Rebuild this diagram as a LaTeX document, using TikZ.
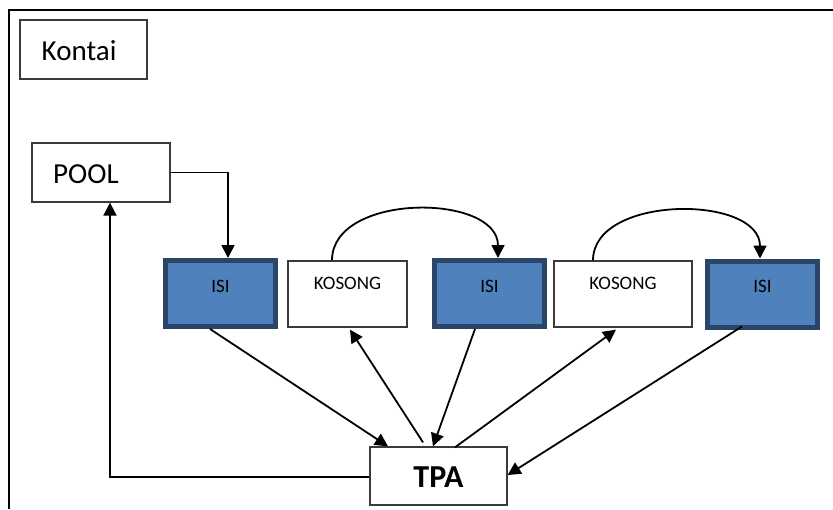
\documentclass[tikz,border=0pt]{standalone}
\usepackage{fontspec}
\setmainfont{Carlito}
\usetikzlibrary{arrows.meta}

\definecolor{isifill}{HTML}{4F81BD}
\definecolor{isiedge}{HTML}{2A4568}
\definecolor{boxedge}{HTML}{3A3A3A}

\tikzset{
  plainbox/.style={draw=boxedge, line width=1.3pt, fill=white, inner sep=0pt},
  isibox/.style={draw=isiedge, line width=5pt, fill=isifill, inner sep=0pt,
                 minimum width=110pt, minimum height=66pt},
  kosbox/.style={plainbox, minimum height=66pt},
  bigtxt/.style={font=\fontsize{29}{32}\selectfont, inner sep=0pt},
  smalltxt/.style={font=\fontsize{19}{22}\selectfont, inner sep=0pt},
  conn/.style={line width=1.8pt, black},
  arr/.style={conn, -{Triangle[length=13pt,width=13pt]}},
}

\begin{document}
\begin{tikzpicture}[x=1pt,y=-1pt]
  \useasboundingbox (0,0) rectangle (833,509);

  % outer frame (left and top edges only)
  \draw[line width=2pt] (9,509) -- (9,10) -- (833,10);

  % title box
  \node[plainbox, minimum width=127pt, minimum height=59pt] (kontai) at (83.5,49.5) {};
  \node[bigtxt, anchor=base west] (kontaitxt) at (41.5,60) {Kontai};

  % pool
  \node[plainbox, minimum width=138pt, minimum height=59pt] (pool) at (101,172.5) {};
  \node[bigtxt, anchor=base west] (pooltxt) at (53,183) {POOL};

  % row of slots
  \node[isibox] (isi1) at (220.5,293.5) {};
  \node[kosbox, minimum width=119pt] (kos1) at (347.5,294) {};
  \node[isibox] (isi2) at (489.5,293.5) {};
  \node[kosbox, minimum width=138pt] (kos2) at (623,294) {};
  \node[isibox] (isi3) at (762.5,294) {};

  \node[smalltxt, anchor=base] (t1) at (220.5,292) {ISI};
  \node[smalltxt, anchor=base] (t2) at (347.5,289) {KOSONG};
  \node[smalltxt, anchor=base] (t3) at (489.5,292) {ISI};
  \node[smalltxt, anchor=base] (t4) at (623,289) {KOSONG};
  \node[smalltxt, anchor=base] (t5) at (762.5,292) {ISI};

  % TPA
  \node[plainbox, minimum width=137pt, minimum height=58pt] (tpa) at (438.5,476) {};
  \node[font=\fontsize{32}{36}\selectfont\bfseries, inner sep=0pt, anchor=base] (tpatxt) at (438.5,487.5) {TPA};

  % pool feeds the first slot
  \draw[arr] (pool.east) -| ([xshift=7.5pt]isi1.north);

  % moves from empty slots to filled slots
  \draw[arr] ([xshift=-15.5pt]kos1.north) .. controls +(0,-68) and +(0,-65) .. ([xshift=8.5pt]isi2.north);
  \draw[arr] ([xshift=-30pt]kos2.north) .. controls +(0,-66) and +(0,-64) .. ([xshift=-2.5pt]isi3.north);

  % exchanges with TPA
  \draw[arr] ([xshift=-10.5pt]isi1.south) -- ([xshift=-50.5pt]tpa.north);
  \draw[arr] ([xshift=-15.5pt,yshift=4pt]tpa.north) -- ([xshift=2.5pt,yshift=-2pt]kos1.south);
  \draw[arr] ([xshift=-14.5pt]isi2.south) -- ([xshift=-5.5pt]tpa.north);
  \draw[arr] ([xshift=16.5pt,yshift=-1pt]tpa.north) -- ([xshift=-7pt,yshift=-2pt]kos2.south);
  \draw[arr] ([xshift=-20.5pt,yshift=3pt]isi3.south) -- ([yshift=1pt]tpa.east);

  % TPA returns to the pool
  \draw[arr] ([yshift=-1pt]tpa.west) -| ([xshift=9pt]pool.south);
\end{tikzpicture}
\end{document}
